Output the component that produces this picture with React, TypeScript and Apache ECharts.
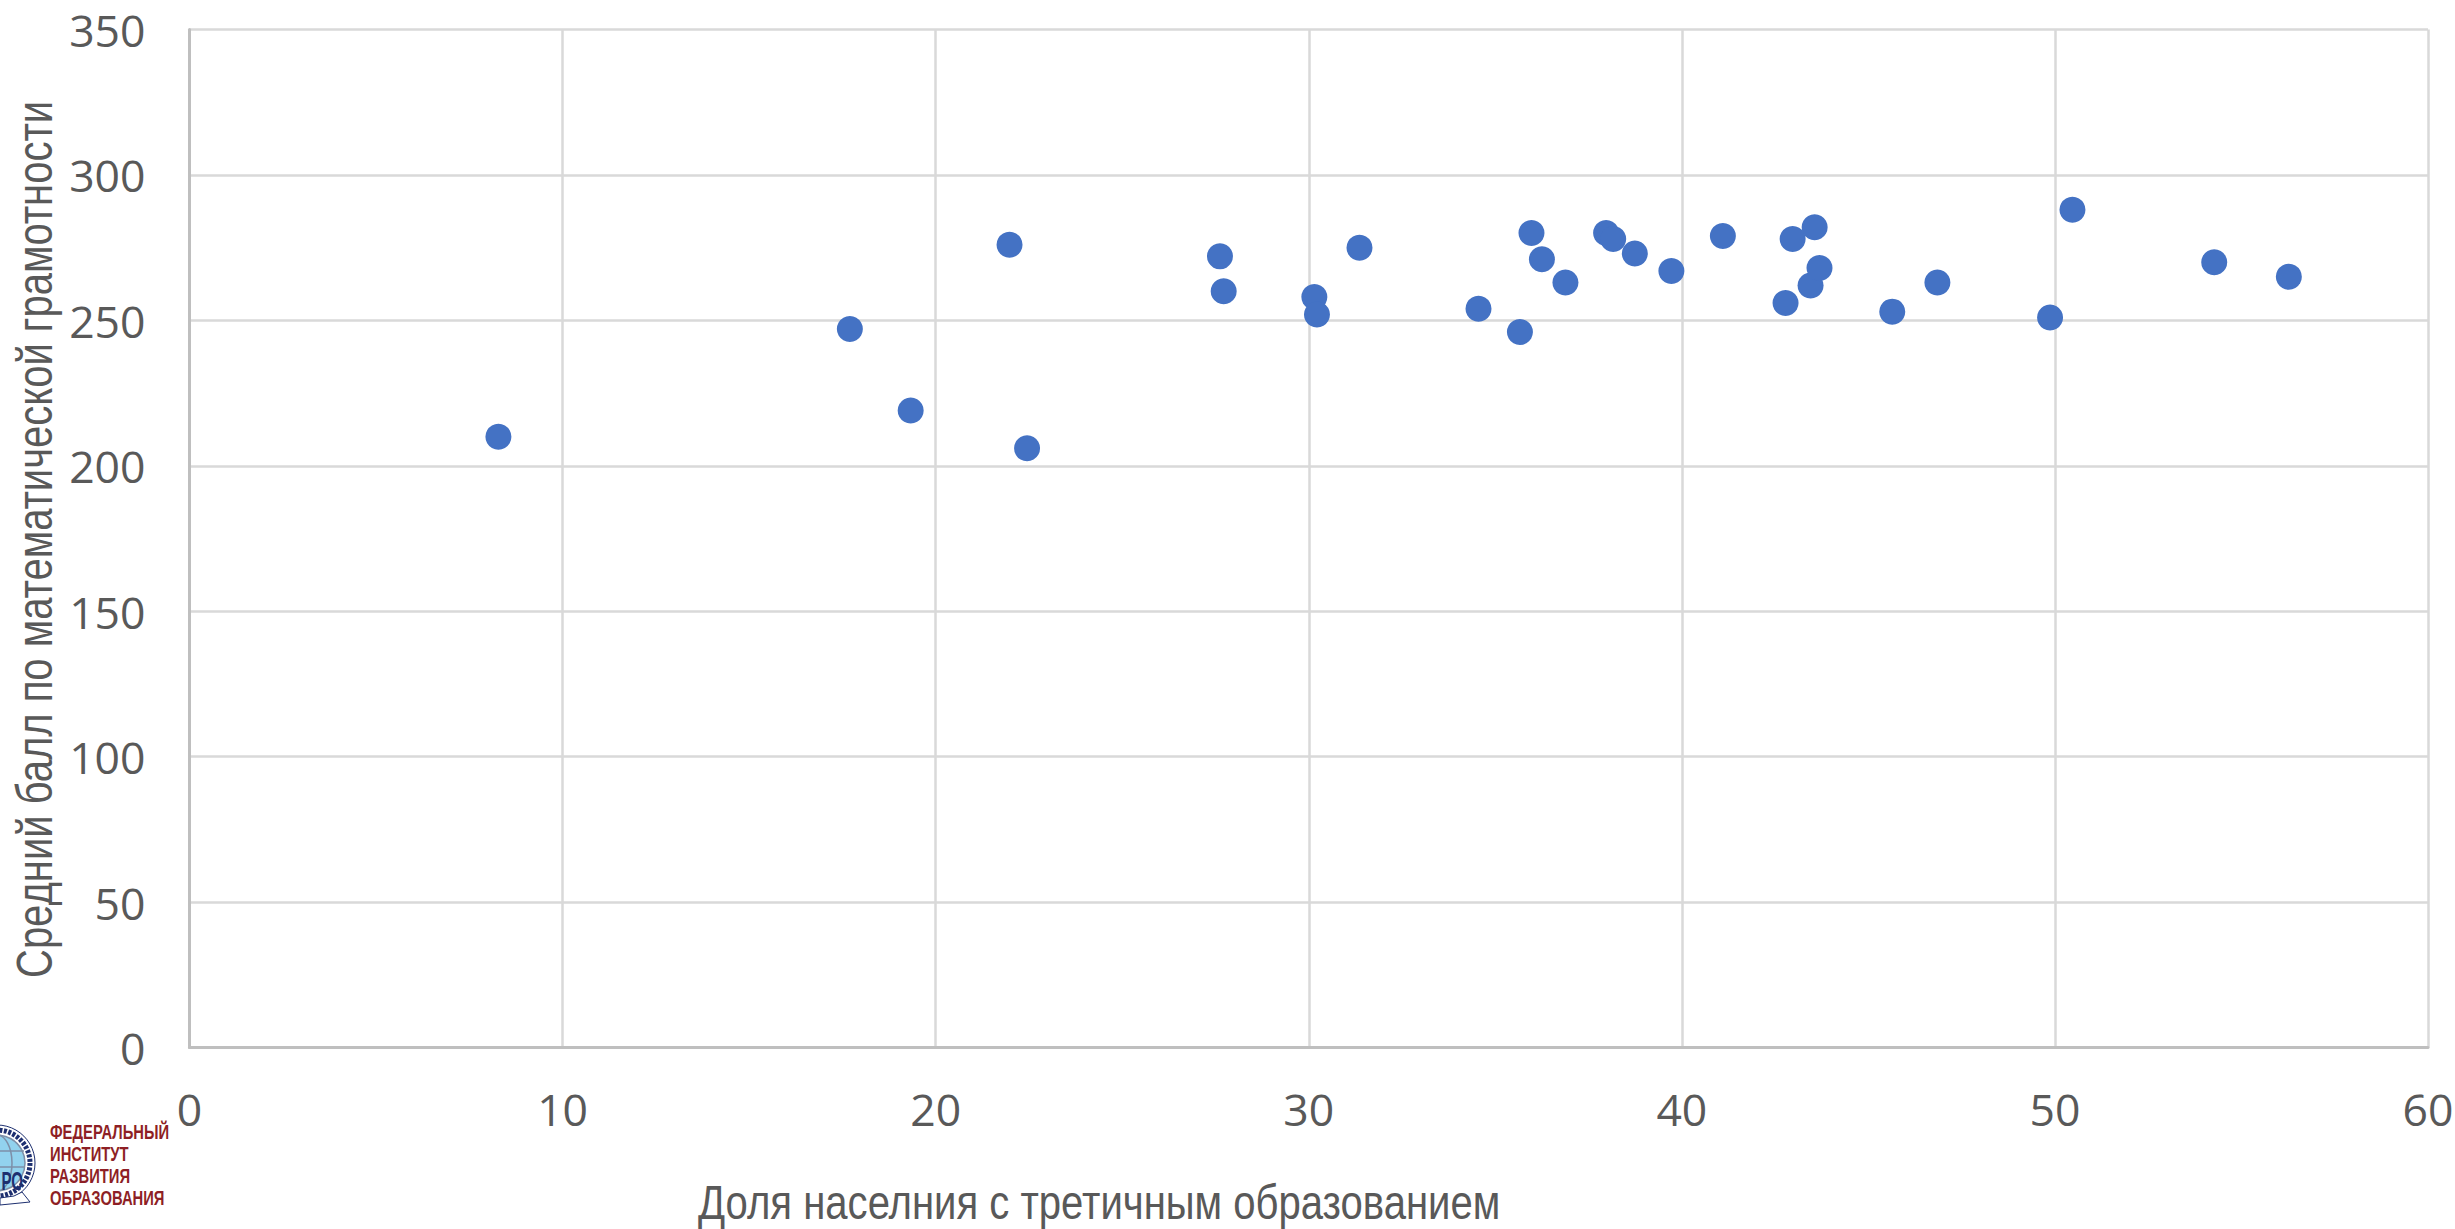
import React, { useEffect, useRef } from "react";
import * as echarts from "echarts";

const shareTertiary = [8.28, 17.7, 19.33, 21.98, 22.45, 27.62, 27.72, 30.15, 30.22, 31.36, 34.55, 35.66, 35.97, 36.25, 36.88, 37.97, 38.16, 38.74, 39.72, 41.1, 42.78, 42.97, 43.45, 43.56, 43.69, 45.64, 46.85, 49.87, 50.47, 54.27, 56.27];
const mathScore = [210, 247, 219, 276, 206, 272, 260, 258, 252, 275, 254, 246, 280, 271, 263, 280, 278, 273, 267, 279, 256, 278, 262, 282, 268, 253, 263, 251, 288, 270, 265];
const xTitle = "Доля населния с третичным образованием";
const yTitle = "Средний балл по математической грамотности";
const logoLines = ["ФЕДЕРАЛЬНЫЙ", "ИНСТИТУТ", "РАЗВИТИЯ", "ОБРАЗОВАНИЯ"];

const SANS = '"Liberation Sans", Arial, sans-serif';
const LABEL = '"Open Sans", "Noto Sans", sans-serif';

export default function App() {
  const ref = useRef<HTMLDivElement>(null);
  useEffect(() => {
    document.body.style.margin = "0";
    const chart = echarts.init(ref.current!, undefined, { renderer: "svg" });
    const cx = -3, cy = 1163, r = 38;
    chart.setOption({
      animation: false,
      backgroundColor: "#ffffff",
      grid: { left: 189.5, right: 27, top: 29.5, bottom: 181.5, outerBoundsMode: "none" },
      xAxis: {
        type: "value", min: 0, max: 60, interval: 10,
        axisLine: { show: true, lineStyle: { color: "#bfbfbf", width: 3 } },
        axisTick: { show: false },
        axisLabel: { fontFamily: LABEL, fontSize: 44.5, color: "#595959", margin: 38 },
        splitLine: { show: true, lineStyle: { color: "#d9d9d9", width: 2.5 } },
      },
      yAxis: {
        type: "value", min: 0, max: 350, interval: 50,
        axisLine: { show: true, lineStyle: { color: "#bfbfbf", width: 3 } },
        axisTick: { show: false },
        axisLabel: { fontFamily: LABEL, fontSize: 44.5, color: "#595959", margin: 44 },
        splitLine: { show: true, lineStyle: { color: "#d9d9d9", width: 2.5 } },
      },
      series: [{
        type: "scatter",
        data: shareTertiary.map((v, i) => [v, mathScore[i]]),
        symbol: "circle", symbolSize: 26,
        itemStyle: { color: "#4472C4", opacity: 1 },
      }],
      graphic: [
        { type: "text", x: 698, y: 1226, scaleX: 0.835, style: { text: xTitle, fontFamily: SANS, fontSize: 48, fill: "#595959", textVerticalAlign: "bottom" } },
        { type: "text", x: 60, y: 978, rotation: Math.PI / 2, scaleX: 0.8, style: { text: yTitle, fontFamily: SANS, fontSize: 50, fill: "#595959", textVerticalAlign: "bottom" } },
        { type: "circle", shape: { cx, cy, r }, style: { fill: "#ffffff", stroke: "#1d2f6f", lineWidth: 1 } },
        { type: "circle", shape: { cx, cy, r: 28 }, style: { fill: "#92d2ee", stroke: "#7d8fa8", lineWidth: 1.5 } },
        { type: "circle", shape: { cx, cy, r: 33 }, style: { fill: "none", stroke: "#1d2f6f", lineWidth: 5, lineDash: [3, 1.5] } },
        { type: "ellipse", shape: { cx, cy, rx: 15, ry: 28 }, style: { fill: "none", stroke: "#7d8fa8", lineWidth: 1.5 } },
        { type: "line", shape: { x1: 0, y1: cy - 12, x2: 24, y2: cy - 12 }, style: { stroke: "#7d8fa8", lineWidth: 1.5 } },
        { type: "line", shape: { x1: 0, y1: cy + 4, x2: 25, y2: cy + 4 }, style: { stroke: "#7d8fa8", lineWidth: 1.5 } },
        { type: "polygon", shape: { points: [[0, 1198], [14, 1196], [22, 1192], [30, 1202], [0, 1205]] }, style: { fill: "#ffffff", stroke: "#1d2f6f", lineWidth: 1 } },
        { type: "text", x: 23, y: 1194, scaleX: 0.58, style: { text: "РО", fontFamily: SANS, fontWeight: "bold", fontSize: 26, fill: "#1d2f6f", textAlign: "right", textVerticalAlign: "bottom" } },
        ...logoLines.map((t, i) => ({
          type: "text", x: 50, y: 1142 + i * 22, scaleX: 0.74,
          style: { text: t, fontFamily: SANS, fontWeight: "bold", fontSize: 20, fill: "#8e1f25", textVerticalAlign: "bottom" },
        })),
      ],
    });
    return () => chart.dispose();
  }, []);
  return <div ref={ref} style={{ width: 2455, height: 1229, display: "block" }} />;
}
